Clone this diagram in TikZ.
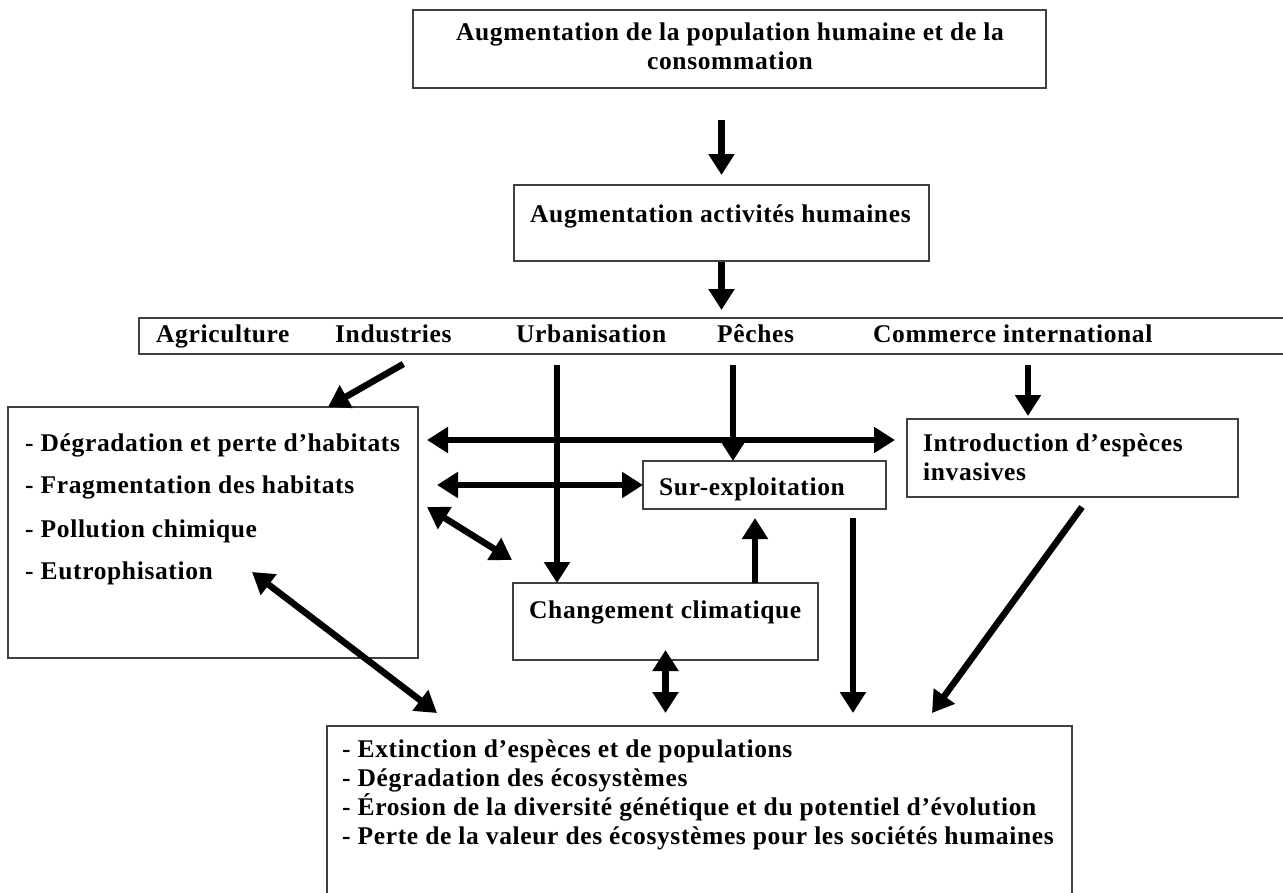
\documentclass[tikz,border=0pt]{standalone}
\usepackage{fontspec}
\setmainfont{Liberation Serif}[LetterSpace=2.5]
\usetikzlibrary{arrows.meta,calc}
\tikzset{
  box/.style={draw=black!75, line width=1.3pt, inner sep=0pt, outer sep=0pt},
  txt/.style={anchor=base west, inner sep=0pt, font=\fontsize{25.5}{29}\selectfont\bfseries},
  ctxt/.style={anchor=base, inner sep=0pt, font=\fontsize{25.5}{29}\selectfont\bfseries},
  tip/.tip={Triangle[length=21pt,width=25pt]},
  arr/.style={line width=6.5pt, -tip},
  darr/.style={line width=6.5pt, tip-tip},
}
\begin{document}
\begin{tikzpicture}[x=1pt,y=-1pt]
\useasboundingbox (0,0) rectangle (1283,892);
\clip (0,0) rectangle (1283,892);
\fill[white] (0,0) rectangle (1283,892);

% boxes
\node[box, minimum width=633pt, minimum height=78pt] (top) at (729.5,49) {};
\node[box, minimum width=415pt, minimum height=76pt] (b2) at (721.5,223) {};
\node[box, minimum width=1156pt, minimum height=36pt] (row) at (717,336) {};
\node[box, minimum width=410pt, minimum height=251pt] (lbox) at (213,532.5) {};
\node[box, minimum width=243pt, minimum height=48pt] (so) at (764.5,485) {};
\node[box, minimum width=331pt, minimum height=78pt] (intro) at (1072.5,458) {};
\node[box, minimum width=305pt, minimum height=77pt] (cc) at (665.5,621.5) {};
\node[box, minimum width=745pt, minimum height=184pt] (bot) at (699.5,818) {};

% texts
\node[ctxt] (t1) at (730,40) {Augmentation de la population humaine et de la};
\node[ctxt] (t2) at (730,69) {consommation};
\node[txt] (t3) at (530,222) {Augmentation activités humaines};
\node[txt] (agr) at (156,342) {Agriculture};
\node[txt] (ind) at (335,342) {Industries};
\node[txt] (urb) at (516,342) {Urbanisation};
\node[txt] (pec) at (717,342) {Pêches};
\node[txt] (com) at (873,342) {Commerce international};
\node[txt] (l1) at (25,451) {- Dégradation et perte d’habitats};
\node[txt] (l2) at (25,493) {- Fragmentation des habitats};
\node[txt] (l3) at (25,537) {- Pollution chimique};
\node[txt] (l4) at (25,579) {- Eutrophisation};
\node[txt] (sot) at (659,495) {Sur-exploitation};
\node[txt] (in1) at (923,451) {Introduction d’espèces};
\node[txt] (in2) at (923,480) {invasives};
\node[txt] (cct) at (529,618) {Changement climatique};
\node[txt] (b1) at (342,757) {- Extinction d’espèces et de populations};
\node[txt] (bb2) at (342,786) {- Dégradation des écosystèmes};
\node[txt] (b3) at (342,815) {- Érosion de la diversité génétique et du potentiel d’évolution};
\node[txt] (b4) at (342,844) {- Perte de la valeur des écosystèmes pour les sociétés humaines};

% helper coordinates
\coordinate (ua) at ($(cc.north west)+(44,0)$);
\coordinate (pa) at ($(so.north west)+(90,0)$);
\coordinate (ca) at ($(intro.north west)+(121,0)$);
\coordinate (h1) at ($(lbox.north east)+(9,33)$);
\coordinate (ub) at ($(cc.north west)+(242,0)$);
\coordinate (sd) at ($(so.south west)+(210,0)$);

% arrows
\draw[arr, shorten <=32pt, shorten >=10pt] (b2.north |- top.south) -- (b2.north);
\draw[arr, shorten <=1pt, shorten >=8pt] (b2.south) -- (b2.south |- row.north);
\draw[arr] ($(row.south -| ind)+(10,10)$) -- ($(lbox.north east)+(-90,0)$);
\draw[arr, shorten <=11pt] (ua |- row.south) -- (ua);
\draw[arr, shorten <=11pt] (pa |- row.south) -- (pa);
\draw[arr, shorten <=11pt, shorten >=3pt] (ca |- row.south) -- (ca);
\draw[darr, shorten >=12pt] (h1) -- (h1 -| intro.west);
\draw[darr, shorten <=19pt] (so.west -| lbox.east) -- (so.west);
\draw[darr] ($(lbox.north east)+(9,100)$) -- ($(cc.north west)+(-1,-23)$);
\draw[arr, shorten >=9pt] (ub) -- (ub |- so.south);
\draw[darr, shorten <=-10pt, shorten >=13pt] (cc.south) -- (cc.south |- bot.north);
\draw[arr, shorten <=9pt, shorten >=13pt] (sd) -- (sd |- bot.north);
\draw[arr] ($(intro.south)+(9.5,10)$) -- ($(bot.north east)+(-140,-13)$);
\draw[darr] ($(lbox.south west)+(244,-86)$) -- ($(bot.north west)+(110,-13)$);
\end{tikzpicture}
\end{document}
